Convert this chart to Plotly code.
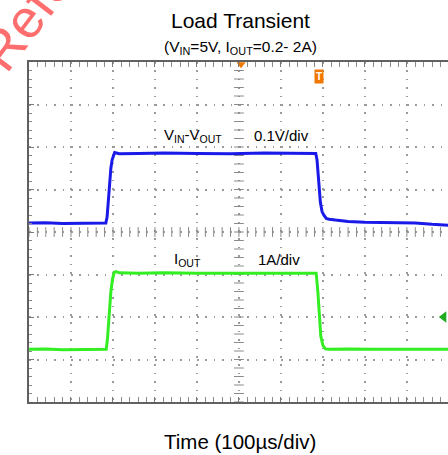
import plotly.graph_objects as go
import numpy as np

# Scope settings
TIME_PER_DIV = 100      # µs/div
V_PER_DIV = 0.1         # V/div  (channel 1)
I_PER_DIV = 1.0         # A/div  (channel 4)

# Channel 1: VIN - VOUT (V)
t_v = [0, 40, 80, 120, 160, 183, 186, 189, 192, 195, 198, 201, 204, 208, 215,
       260, 320, 400, 480, 560, 640, 683, 686, 690, 694, 698, 702, 708, 715,
       730, 760, 800, 860, 920, 960, 1000]
v_diff = [0.021, 0.022, 0.020, 0.021, 0.021, 0.021, 0.035, 0.075, 0.115, 0.150,
          0.170, 0.181, 0.187, 0.186, 0.184, 0.185, 0.186, 0.185, 0.184, 0.186,
          0.185, 0.185, 0.170, 0.120, 0.070, 0.048, 0.040, 0.032, 0.030, 0.028,
          0.025, 0.023, 0.022, 0.021, 0.018, 0.016]

# Channel 4: IOUT (A)
t_i = [0, 40, 80, 120, 160, 184, 187, 191, 195, 199, 203, 207, 215, 260, 320,
       400, 480, 560, 640, 684, 688, 692, 695, 700, 706, 715, 760, 820, 880,
       940, 1000]
i_out = [0.24, 0.25, 0.23, 0.24, 0.25, 0.24, 0.50, 1.10, 1.60, 1.90, 2.05, 2.07,
         2.04, 2.03, 2.04, 2.03, 2.03, 2.04, 2.03, 2.03, 1.60, 0.90, 0.55, 0.33,
         0.25, 0.24, 0.25, 0.24, 0.24, 0.23, 0.24]

BLUE = "#1a1ae8"
GREEN = "#33ee22"
FONT = "Arial, Liberation Sans, sans-serif"

fig = go.Figure()

# centre cross-hair tick marks
tx = np.arange(0, 1001, TIME_PER_DIV / 5)
vy = np.arange(-0.4, 0.4001, V_PER_DIV / 5)
fig.add_trace(go.Scatter(x=tx, y=np.zeros_like(tx), mode="markers",
                         marker=dict(symbol="line-ns", size=7,
                                     line=dict(color="#8a8a8a", width=1)),
                         hoverinfo="skip", showlegend=False))
fig.add_trace(go.Scatter(x=np.full_like(vy, 500), y=vy, mode="markers",
                         marker=dict(symbol="line-ew", size=7,
                                     line=dict(color="#8a8a8a", width=1)),
                         hoverinfo="skip", showlegend=False))

fig.add_trace(go.Scatter(x=t_v, y=v_diff, mode="lines",
                         line=dict(color=BLUE, width=3),
                         showlegend=False, yaxis="y"))
fig.add_trace(go.Scatter(x=t_i, y=i_out, mode="lines",
                         line=dict(color=GREEN, width=3),
                         showlegend=False, yaxis="y2"))

# channel / trigger markers
fig.add_trace(go.Scatter(x=[-4], y=[0], mode="markers", cliponaxis=False,
                         marker=dict(symbol="triangle-right", size=9, color="#12129a"),
                         hoverinfo="skip", showlegend=False))
fig.add_trace(go.Scatter(x=[-4], y=[0], mode="markers", cliponaxis=False, yaxis="y2",
                         marker=dict(symbol="triangle-right-open", size=9,
                                     color="#33bb33", line=dict(width=1.2)),
                         hoverinfo="skip", showlegend=False))
fig.add_trace(go.Scatter(x=[505], y=[0.395], mode="markers", cliponaxis=False,
                         marker=dict(symbol="triangle-down", size=8, color="#f07800"),
                         hoverinfo="skip", showlegend=False))
fig.add_trace(go.Scatter(x=[988], y=[1.0], mode="markers", cliponaxis=False, yaxis="y2",
                         marker=dict(symbol="triangle-left", size=10, color="#22aa22"),
                         hoverinfo="skip", showlegend=False))

ann = [
    dict(text="1", x=-22, y=0, xref="x", yref="y", showarrow=False,
         bgcolor="#12129a", font=dict(color="white", size=11, family=FONT),
         borderpad=1),
    dict(text="4", x=-22, y=0, xref="x", yref="y2", showarrow=False,
         bgcolor="white", bordercolor="#33bb33", borderwidth=1,
         font=dict(color="#33bb33", size=11, family=FONT), borderpad=0),
    dict(text="<b>T</b>", x=690, y=0.367, xref="x", yref="y", showarrow=False,
         bgcolor="#f07800", font=dict(color="white", size=10, family=FONT),
         borderpad=1),
    dict(text="V<sub>IN</sub>-V<sub>OUT</sub>", x=317, y=0.228, xref="x", yref="y",
         xanchor="left", showarrow=False, font=dict(size=15, color="black", family=FONT)),
    dict(text="0.1V/div", x=531, y=0.228, xref="x", yref="y",
         xanchor="left", showarrow=False, font=dict(size=15, color="black", family=FONT)),
    dict(text="I<sub>OUT</sub>", x=340, y=2.36, xref="x", yref="y2",
         xanchor="left", showarrow=False, font=dict(size=15, color="black", family=FONT)),
    dict(text="1A/div", x=540, y=2.36, xref="x", yref="y2",
         xanchor="left", showarrow=False, font=dict(size=15, color="black", family=FONT)),
    dict(text="Load Transient", x=0.504, y=1.1235, xref="paper", yref="paper",
         xanchor="center", yanchor="middle", showarrow=False,
         font=dict(size=21, color="black", family=FONT)),
    dict(text="(V<sub>IN</sub>=5V, I<sub>OUT</sub>=0.2- 2A)", x=0.504, y=1.042,
         xref="paper", yref="paper", xanchor="center", yanchor="middle",
         showarrow=False, font=dict(size=15.5, color="black", family=FONT)),
    dict(text="Time (100µs/div)", x=0.504, y=-0.115, xref="paper", yref="paper",
         xanchor="center", yanchor="middle", showarrow=False,
         font=dict(size=20.5, color="black", family=FONT)),
    dict(text="Reference", x=0.089, y=1.288, xref="paper", yref="paper",
         xanchor="center", yanchor="middle", showarrow=False, textangle=-53,
         font=dict(size=54, color="#ff6e6e", family=FONT)),
]

fig.update_layout(
    width=448, height=455,
    margin=dict(l=29, r=0, t=62, b=53),
    paper_bgcolor="white", plot_bgcolor="white",
    annotations=ann,
    xaxis=dict(range=[0, 998], showticklabels=False, dtick=TIME_PER_DIV, tick0=0,
               showgrid=True, gridcolor="#9a9a9a", gridwidth=1.5,
               griddash="1.5px,6.9px", zeroline=False,
               showline=True, linecolor="#606060", linewidth=2, mirror="allticks",
               ticks="inside", ticklen=5, tickcolor="#7a7a7a",
               minor=dict(dtick=TIME_PER_DIV / 5, ticks="inside", ticklen=3,
                          tickcolor="#8a8a8a", showgrid=False)),
    yaxis=dict(range=[-4 * V_PER_DIV, 4 * V_PER_DIV], showticklabels=False,
               dtick=V_PER_DIV, tick0=0,
               showgrid=True, gridcolor="#9a9a9a", gridwidth=1.5,
               griddash="1.5px,6.9px", zeroline=False,
               showline=True, linecolor="#606060", linewidth=2, mirror=False,
               ticks="inside", ticklen=5, tickcolor="#7a7a7a",
               minor=dict(dtick=V_PER_DIV / 5, ticks="inside", ticklen=3,
                          tickcolor="#8a8a8a", showgrid=False)),
    yaxis2=dict(range=[-1 * I_PER_DIV, 7 * I_PER_DIV], overlaying="y",
                showticklabels=False, showgrid=False, zeroline=False,
                showline=False, ticks=""),
)

fig.write_html("out.html")
